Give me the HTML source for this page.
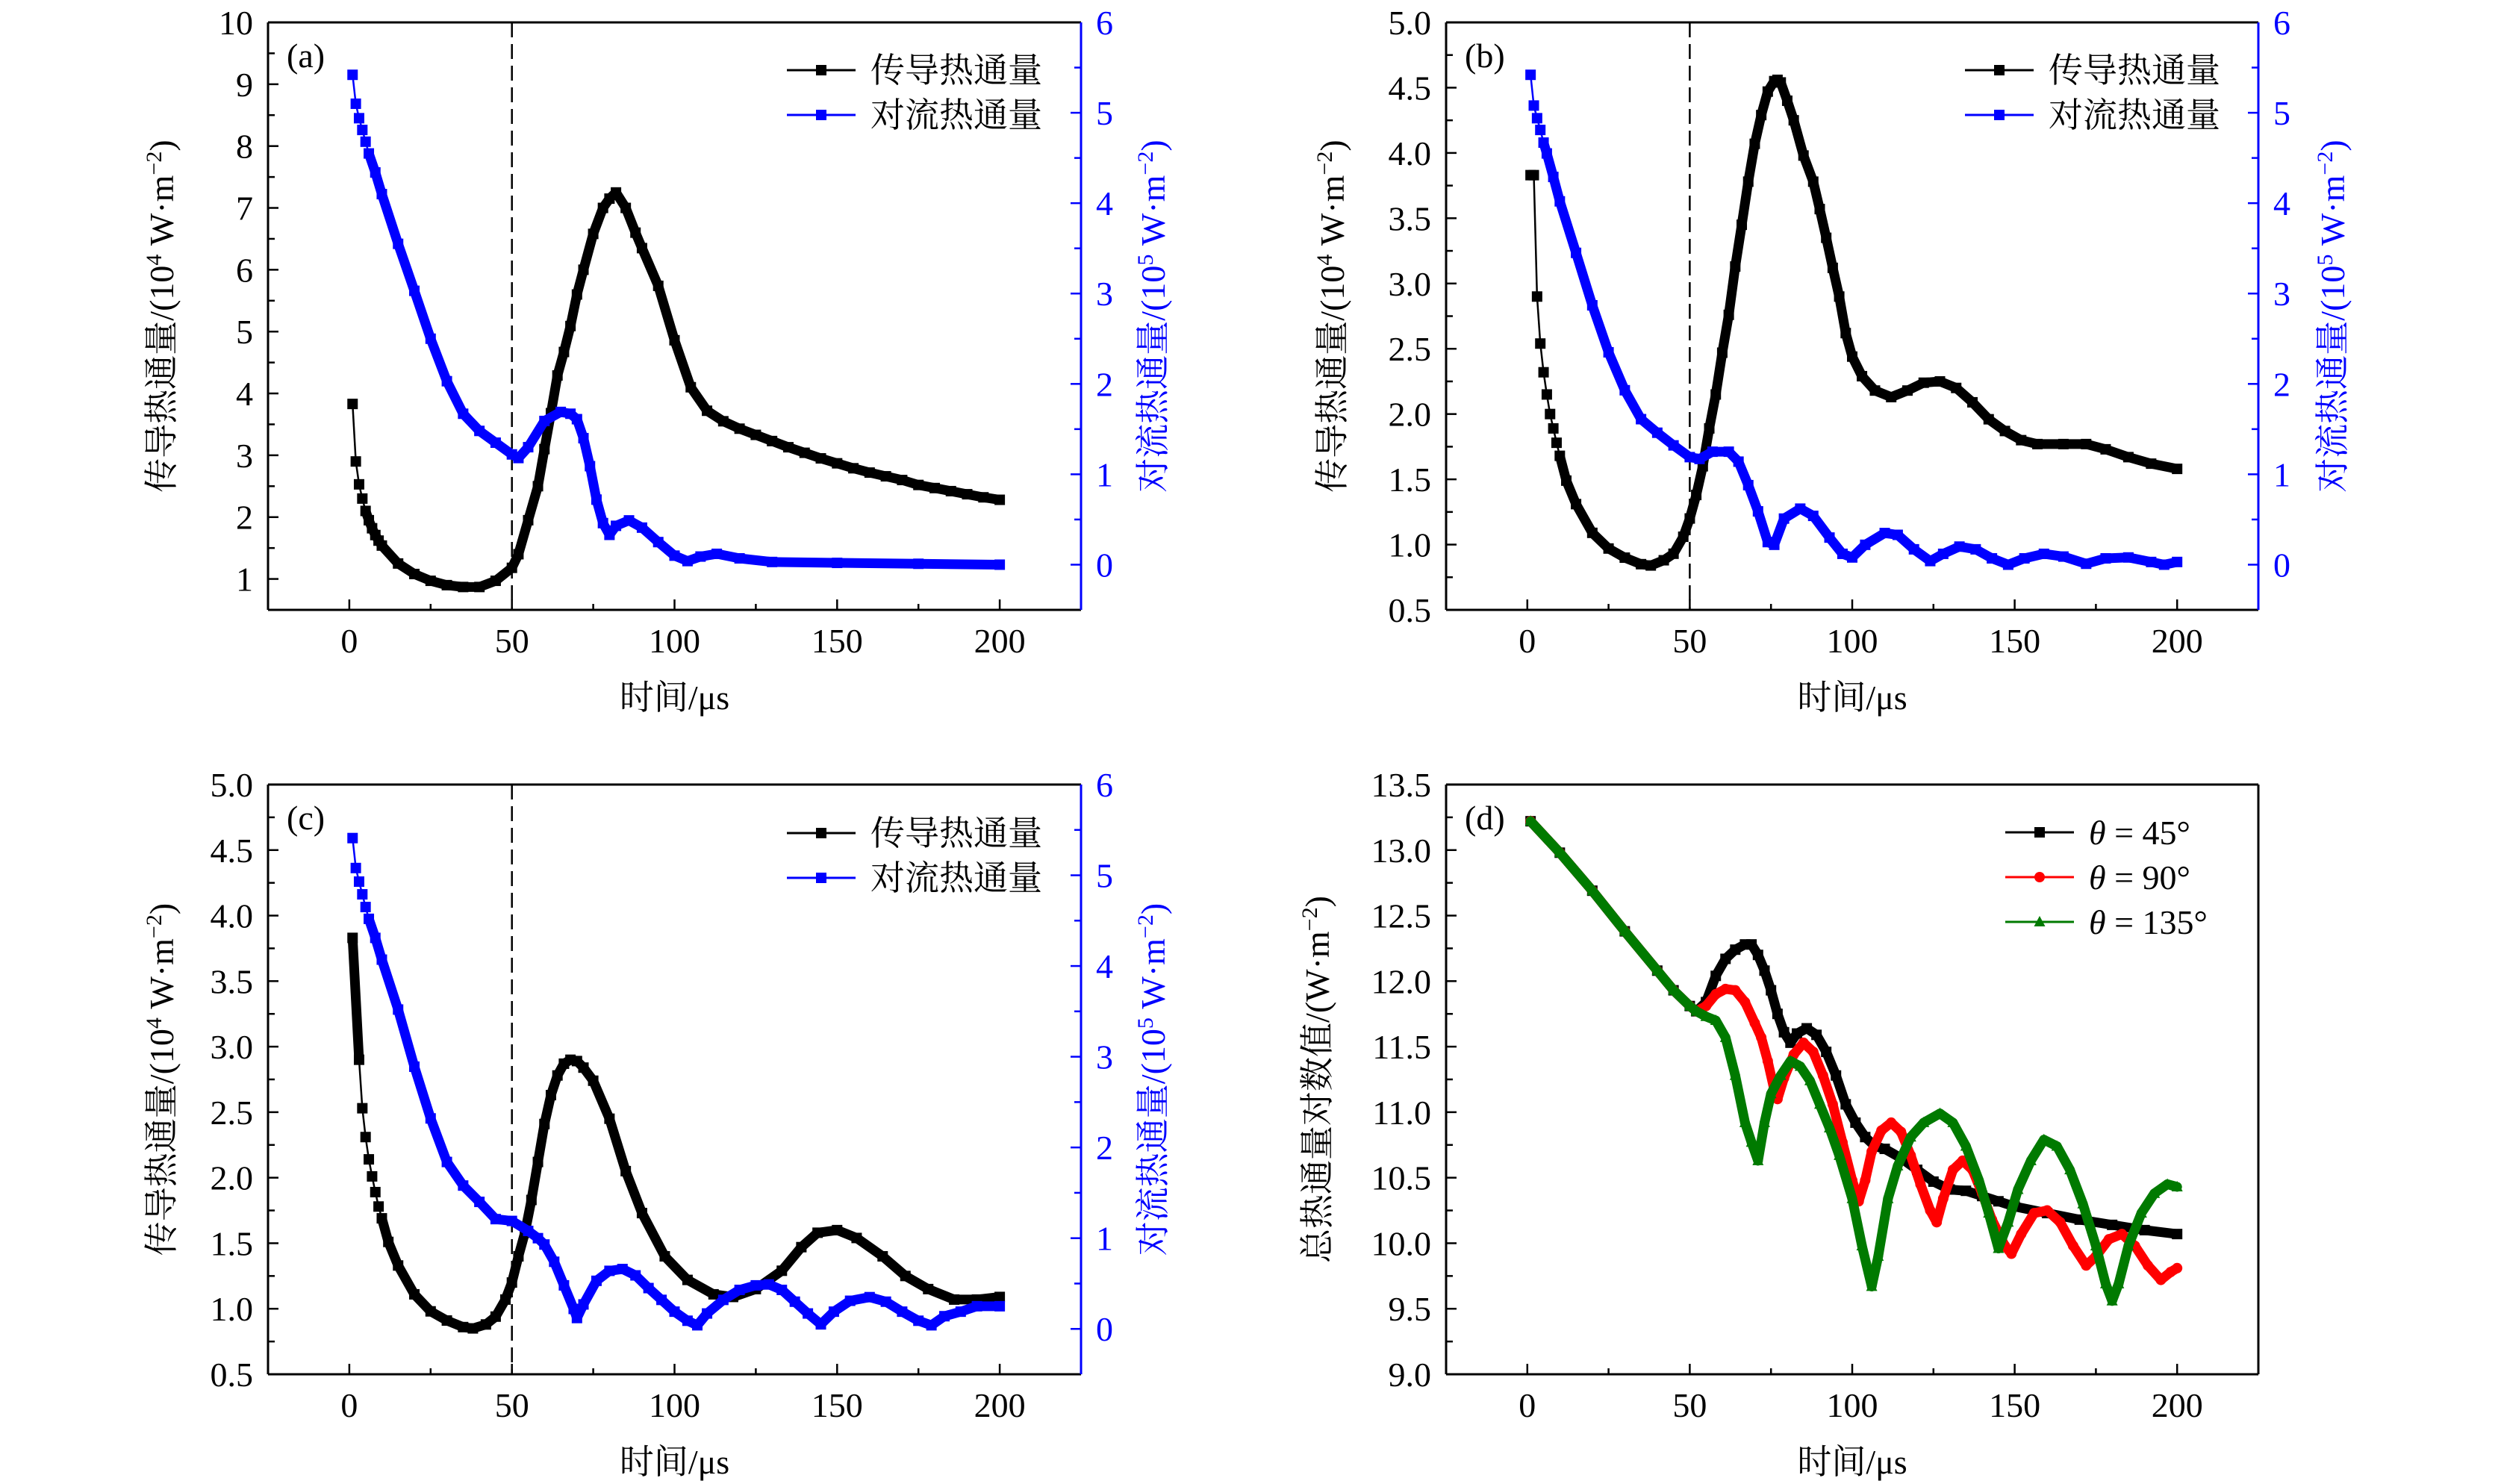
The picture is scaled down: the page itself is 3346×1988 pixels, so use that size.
<!DOCTYPE html>
<html><head><meta charset="utf-8">
<style>
html,body{margin:0;padding:0;background:#fff;}
svg{display:block;}
text{font-family:"Liberation Serif","Noto Serif CJK SC","Noto Sans CJK SC",serif;}
</style></head>
<body>
<svg id="fig" xmlns="http://www.w3.org/2000/svg" width="3346" height="1988" viewBox="0 0 3346 1988">
<rect width="3346" height="1988" fill="#fff"/>
</svg>
<script>
// ---------- Panel (a) data ----------
const aCondT = [1,2,3,4,5,6,7,8,9,10,15,20,25,30,35,40,45,50,52,55,58,60,62,64,66,68,70,72,75,78,80,82,85,88,90,95,100,105,110,115,120,125,130,135,140,145,150,155,160,165,170,175,180,185,190,195,200];
const aCondY = [3.83,2.9,2.53,2.3,2.1,1.95,1.82,1.71,1.62,1.54,1.25,1.08,0.97,0.9,0.87,0.87,0.97,1.18,1.4,1.95,2.5,3.1,3.68,4.29,4.67,5.09,5.6,6.0,6.58,7.0,7.15,7.25,7.0,6.6,6.35,5.74,4.86,4.1,3.72,3.55,3.43,3.33,3.23,3.13,3.04,2.95,2.87,2.79,2.72,2.66,2.6,2.52,2.47,2.42,2.37,2.32,2.28];
const aConvT = [1,2,3,4,5,6,8,10,15,20,25,30,35,40,45,50,52,55,60,65,68,70,72,74,76,78,80,82,86,90,95,100,104,108,113,120,130,150,175,200];
const aConvY = [5.42,5.1,4.94,4.81,4.68,4.55,4.34,4.1,3.55,3.03,2.5,2.03,1.67,1.48,1.35,1.22,1.18,1.3,1.59,1.69,1.67,1.61,1.4,1.09,0.72,0.46,0.33,0.43,0.49,0.41,0.25,0.1,0.04,0.09,0.12,0.07,0.03,0.02,0.01,0.0];
// ---------- Panel (b) data ----------
const bCondT = [1,2,3,4,5,6,7,8,9,10,12,15,20,25,30,35,38,42,45,48,50,52,54,56,58,60,62,64,66,68,70,72,74,76,77,78,80,82,85,88,90,92,94,96,98,100,103,107,112,117,122,127,132,137,142,147,152,157,165,172,178,185,192,200];
const bCondY = [3.83,3.83,2.9,2.54,2.32,2.15,2.0,1.89,1.78,1.68,1.49,1.31,1.09,0.97,0.9,0.85,0.84,0.88,0.93,1.06,1.2,1.38,1.6,1.89,2.15,2.47,2.76,3.13,3.45,3.78,4.07,4.29,4.47,4.55,4.56,4.54,4.4,4.25,3.98,3.78,3.57,3.35,3.12,2.9,2.62,2.44,2.29,2.18,2.13,2.18,2.24,2.25,2.2,2.09,1.96,1.87,1.8,1.77,1.77,1.77,1.73,1.67,1.62,1.58];
const bConvT = [1,2,3,4,5,6,8,10,15,20,25,30,35,40,45,50,53,57,62,65,68,71,74,76,79,84,88,93,97,100,104,110,114,119,124,128,133,138,143,148,153,159,165,172,178,185,192,196,200];
const bConvY = [5.42,5.08,4.94,4.81,4.67,4.55,4.29,4.02,3.45,2.87,2.35,1.93,1.61,1.46,1.32,1.19,1.17,1.25,1.25,1.14,0.88,0.59,0.25,0.22,0.51,0.62,0.54,0.3,0.12,0.08,0.22,0.35,0.33,0.17,0.04,0.12,0.2,0.17,0.07,0.0,0.07,0.12,0.09,0.01,0.07,0.08,0.03,0.0,0.03];
// ---------- Panel (c) data ----------
const cCondT = [1,3,4,5,6,7,8,9,10,12,15,20,25,30,35,38,42,45,48,50,52,54,56,58,60,62,64,66,68,70,72,75,80,85,90,97,104,112,118,125,133,139,144,150,156,164,171,178,186,193,200];
const cCondY = [3.83,2.9,2.53,2.31,2.14,2.01,1.89,1.78,1.69,1.51,1.33,1.11,0.98,0.91,0.86,0.85,0.88,0.94,1.07,1.2,1.4,1.58,1.83,2.12,2.41,2.63,2.78,2.87,2.9,2.89,2.84,2.74,2.45,2.05,1.73,1.4,1.22,1.11,1.09,1.15,1.29,1.47,1.58,1.6,1.54,1.4,1.25,1.15,1.07,1.07,1.09];
const cConvT = [1,2,3,4,5,6,8,10,15,20,25,30,35,40,45,50,55,58,60,63,66,69,70,72,76,80,84,88,92,96,100,104,107,110,115,120,125,129,133,137,141,145,149,154,160,165,170,175,179,183,188,193,200];
const cConvY = [5.41,5.08,4.93,4.79,4.65,4.52,4.31,4.07,3.52,2.89,2.32,1.84,1.58,1.4,1.21,1.19,1.08,1.0,0.93,0.74,0.48,0.22,0.12,0.27,0.53,0.64,0.66,0.59,0.45,0.32,0.19,0.09,0.04,0.17,0.32,0.43,0.48,0.49,0.43,0.3,0.17,0.05,0.19,0.31,0.35,0.3,0.19,0.09,0.04,0.14,0.19,0.25,0.25];
// ---------- Panel (d) data ----------
const dT45 = [1,10,20,30,40,45,50,52,55,58,61,64,67,69,71,73,75,77,79,81,83,86,89,92,95,98,101,104,107,110,115,120,125,130,135,140,145,150,160,170,180,190,200];
const dY45 = [13.22,12.98,12.69,12.38,12.08,11.93,11.81,11.77,11.84,12.04,12.17,12.24,12.28,12.28,12.2,12.08,11.93,11.75,11.61,11.53,11.6,11.64,11.59,11.46,11.28,11.06,10.92,10.81,10.74,10.72,10.65,10.56,10.47,10.41,10.4,10.36,10.32,10.28,10.23,10.18,10.14,10.1,10.07];
const dT90 = [1,10,20,30,40,45,50,52,55,58,61,64,67,70,72,74,76,77,79,82,85,88,91,94,97,100,102,104,106,109,112,115,118,121,124,126,128,131,134,137,140,143,147,149,152,156,160,164,168,172,175,179,183,187,191,195,198,200];
const dY90 = [13.22,12.98,12.69,12.38,12.08,11.93,11.81,11.77,11.81,11.9,11.94,11.93,11.84,11.68,11.57,11.39,11.17,11.1,11.26,11.44,11.53,11.46,11.28,11.06,10.77,10.48,10.32,10.48,10.7,10.86,10.92,10.85,10.67,10.45,10.25,10.16,10.34,10.56,10.63,10.56,10.38,10.18,9.98,9.92,10.07,10.23,10.25,10.16,9.98,9.83,9.9,10.03,10.07,9.98,9.83,9.72,9.78,9.81];
const dT135 = [1,10,20,30,40,45,50,52,55,58,61,64,67,69,71,73,75,78,81,84,87,90,93,96,100,103,106,108,111,114,118,122,127,131,135,139,142,145,148,151,155,159,163,167,171,175,178,180,182,185,189,193,197,200];
const dY135 = [13.22,12.98,12.69,12.38,12.08,11.93,11.81,11.77,11.73,11.7,11.57,11.28,10.92,10.77,10.63,10.92,11.14,11.28,11.39,11.35,11.24,11.06,10.88,10.67,10.34,9.98,9.67,9.9,10.34,10.59,10.81,10.92,10.99,10.92,10.74,10.48,10.23,9.96,10.16,10.41,10.63,10.79,10.74,10.56,10.3,9.98,9.69,9.56,9.69,9.98,10.23,10.38,10.45,10.43];

const xTicks = [0,50,100,150,200];
const aLeftTicks = [1,2,3,4,5,6,7,8,9,10];
const rightTicks = [0,1,2,3,4,5,6];
const bcLeftTicks = [0.5,1.0,1.5,2.0,2.5,3.0,3.5,4.0,4.5,5.0];
const dTicks = [9.0,9.5,10.0,10.5,11.0,11.5,12.0,12.5,13.0,13.5];

const NS = "http://www.w3.org/2000/svg";
const svg = document.getElementById('fig');
function mk(tag, attrs, parent){
  const e = document.createElementNS(NS, tag);
  for (const k in attrs) e.setAttribute(k, attrs[k]);
  (parent||svg).appendChild(e);
  return e;
}
function lin(d0,d1,r0,r1){ return v => r0 + (v-d0)*(r1-r0)/(d1-d0); }

function drawMarker(g, shape, x, y, color){
  let m;
  if (shape === 'circle'){
    m = mk('circle', {cx:x, cy:y, r:7, fill:color}, g);
  } else if (shape === 'tri'){
    m = mk('polygon', {points:`${x},${y-8} ${x-7.5},${y+6} ${x+7.5},${y+6}`, fill:color}, g);
  } else {
    m = mk('rect', {x:x-7, y:y-7, width:14, height:14, fill:color}, g);
  }
  
  
}

function drawSeries(panelG, name, T, Y, sx, sy, color, shape){
  const g = mk('g', {}, panelG);
  
  
  for (let i=1;i<T.length;i++){
    const x1=sx(T[i-1]), y1=sy(Y[i-1]), x2=sx(T[i]), y2=sy(Y[i]);
    const len = Math.hypot(x2-x1, y2-y1);
    const dense = (T[i]-T[i-1]) > 1.5 || len < 16;
    const seg = mk('line', {x1, y1, x2, y2, stroke:color, 'stroke-width': dense ? 13 : 2.5, 'stroke-linecap': dense ? 'round':'butt'}, g);
    
    
  }
  for (let i=0;i<T.length;i++) drawMarker(g, shape, sx(T[i]), sy(Y[i]), color);
}

function text(parent, x, y, str, opts){
  const t = mk('text', Object.assign({x, y, 'font-size':46, fill:'#000'}, opts||{}), parent);
  t.textContent = str;
  return t;
}

function drawPanel(cfg){
  const {L,R,T:top,B,label} = cfg;
  const g = mk('g', {});
  
  
  const sx = lin(-25, 225, L, R);
  const syL = lin(cfg.ly0, cfg.ly1, B, top);
  const syR = cfg.right ? lin(-0.5, 6, B, top) : null;
  const blue = '#0000ff';
  for (let v=-25; v<=225; v+=25){
    const x = sx(v);
    const major = v % 50 === 0;
    const tk = mk('line', {x1:x, y1:B, x2:x, y2:B-(major?14:8), stroke:'#000', 'stroke-width':2.5}, g);
    
    
  }
  xTicks.forEach(v=>{
    const t = text(g, sx(v), B+57, String(v), {'text-anchor':'middle'});
    
    
  });
  const lt = cfg.leftTicks;
  const step = lt[1]-lt[0];
  for (let v=cfg.ly0; v<=cfg.ly1+1e-9; v+=step/2){
    const y = syL(v);
    const major = lt.some(t=>Math.abs(t-v)<1e-9);
    const tk = mk('line', {x1:L, y1:y, x2:L+(major?14:9), y2:y, stroke:'#000', 'stroke-width':2.5}, g);
    
    
  }
  lt.forEach(v=>{
    const t = text(g, L-20, syL(v)+16, cfg.leftFmt(v), {'text-anchor':'end'});
    
    
  });
  if (cfg.right){
    for (let v=-0.5; v<=6+1e-9; v+=0.5){
      const y = syR(v);
      const major = Math.abs(v-Math.round(v))<1e-9;
      const tk = mk('line', {x1:R, y1:y, x2:R-(major?14:9), y2:y, stroke:blue, 'stroke-width':2.5}, g);
      
      
    }
    rightTicks.forEach(v=>{
      const t = text(g, R+20, syR(v)+16, String(v), {fill:blue});
      
      
    });
  }
  if (cfg.dash){
    const dl = mk('line', {x1:sx(50), y1:top, x2:sx(50), y2:B, stroke:'#000', 'stroke-width':2.5, 'stroke-dasharray':'20 9'}, g);
    
    
  }
  cfg.series.forEach(s=>{
    drawSeries(g, s.name, s.t, s.y, sx, s.axis==='right'?syR:syL, s.color, s.shape);
  });
  const top1 = mk('line',{x1:L,y1:top,x2:R,y2:top,stroke:'#000','stroke-width':3},g);
   
  const bot = mk('line',{x1:L,y1:B,x2:R,y2:B,stroke:'#000','stroke-width':3},g);
   
  const lft = mk('line',{x1:L,y1:top,x2:L,y2:B,stroke:'#000','stroke-width':3},g);
   
  const rgt = mk('line',{x1:R,y1:top,x2:R,y2:B,stroke:cfg.right?blue:'#000','stroke-width':3},g);
   
  const pl = text(g, L+25, top+60, '('+label+')');
  
  
  const xt = text(g, (L+R)/2, B+133, '时间/μs', {'text-anchor':'middle'});
  
  
  const cy = (top+B)/2;
  const yt = mk('text', {x:0, y:0, 'font-size':46, 'text-anchor':'middle', transform:`translate(${cfg.ltx},${cy}) rotate(-90)`}, g);
  
  
  yt.innerHTML = cfg.leftTitle;
  if (cfg.right){
    const rt = mk('text', {x:0, y:0, 'font-size':46, 'text-anchor':'middle', fill:blue, transform:`translate(${cfg.rtx},${cy}) rotate(-90)`}, g);
    
    
    rt.innerHTML = '对流热通量/(10<tspan dy="-16" font-size="30">5</tspan><tspan dy="16"> W·m</tspan><tspan dy="-16" font-size="30">−2</tspan><tspan dy="16">)</tspan>';
  }
  const lg = mk('g', {}, g);
  
  
  cfg.legend.forEach((e,i)=>{
    const y = cfg.legY + i*cfg.legDy;
    const eg = mk('g', {}, lg);
    
    
    const ln = mk('line', {x1:cfg.legX, y1:y, x2:cfg.legX+92, y2:y, stroke:e.color, 'stroke-width':3}, eg);
    
    
    drawMarker(eg, e.shape, cfg.legX+46, y, e.color);
    const t = mk('text', {x:cfg.legX+112, y:y+16, 'font-size':46}, eg);
    
    
    t.innerHTML = e.text;
  });
}

const condTitle = '传导热通量/(10<tspan dy="-16" font-size="30">4</tspan><tspan dy="16"> W·m</tspan><tspan dy="-16" font-size="30">−2</tspan><tspan dy="16">)</tspan>';
const fmt1 = v=>v.toFixed(1);
const convLegend = [{text:'传导热通量',color:'#000',shape:'sq'},{text:'对流热通量',color:'#0000ff',shape:'sq'}];

drawPanel({label:'a', L:359, R:1448, T:30, B:817, ly0:0.5, ly1:10, leftTicks:aLeftTicks, leftFmt:v=>String(v), right:true, dash:true,
  ltx:232, rtx:1560, leftTitle:condTitle, legend:convLegend, legX:1054, legY:94, legDy:60,
  series:[{name:'conduction-series',t:aCondT,y:aCondY,color:'#000',shape:'sq',axis:'left'},{name:'convection-series',t:aConvT,y:aConvY,color:'#0000ff',shape:'sq',axis:'right'}]});
drawPanel({label:'b', L:1937, R:3025, T:30, B:817, ly0:0.5, ly1:5.0, leftTicks:bcLeftTicks, leftFmt:fmt1, right:true, dash:true,
  ltx:1800, rtx:3140, leftTitle:condTitle, legend:convLegend, legX:2632, legY:94, legDy:60,
  series:[{name:'conduction-series',t:bCondT,y:bCondY,color:'#000',shape:'sq',axis:'left'},{name:'convection-series',t:bConvT,y:bConvY,color:'#0000ff',shape:'sq',axis:'right'}]});
drawPanel({label:'c', L:359, R:1448, T:1051, B:1841, ly0:0.5, ly1:5.0, leftTicks:bcLeftTicks, leftFmt:fmt1, right:true, dash:true,
  ltx:232, rtx:1560, leftTitle:condTitle, legend:convLegend, legX:1054, legY:1116, legDy:60,
  series:[{name:'conduction-series',t:cCondT,y:cCondY,color:'#000',shape:'sq',axis:'left'},{name:'convection-series',t:cConvT,y:cConvY,color:'#0000ff',shape:'sq',axis:'right'}]});
drawPanel({label:'d', L:1937, R:3025, T:1051, B:1841, ly0:9.0, ly1:13.5, leftTicks:dTicks, leftFmt:fmt1, right:false, dash:false,
  ltx:1780, leftTitle:'总热通量对数值/(W·m<tspan dy="-16" font-size="30">−2</tspan><tspan dy="16">)</tspan>',
  legend:[{text:'<tspan font-style="italic">θ</tspan> = 45°',color:'#000',shape:'sq'},{text:'<tspan font-style="italic">θ</tspan> = 90°',color:'#ff0000',shape:'circle'},{text:'<tspan font-style="italic">θ</tspan> = 135°',color:'#007a00',shape:'tri'}],
  legX:2686, legY:1115, legDy:60,
  series:[{name:'theta-45-series',t:dT45,y:dY45,color:'#000',shape:'sq',axis:'left'},{name:'theta-90-series',t:dT90,y:dY90,color:'#ff0000',shape:'circle',axis:'left'},{name:'theta-135-series',t:dT135,y:dY135,color:'#007a00',shape:'tri',axis:'left'}]});
</script>
</body></html>
